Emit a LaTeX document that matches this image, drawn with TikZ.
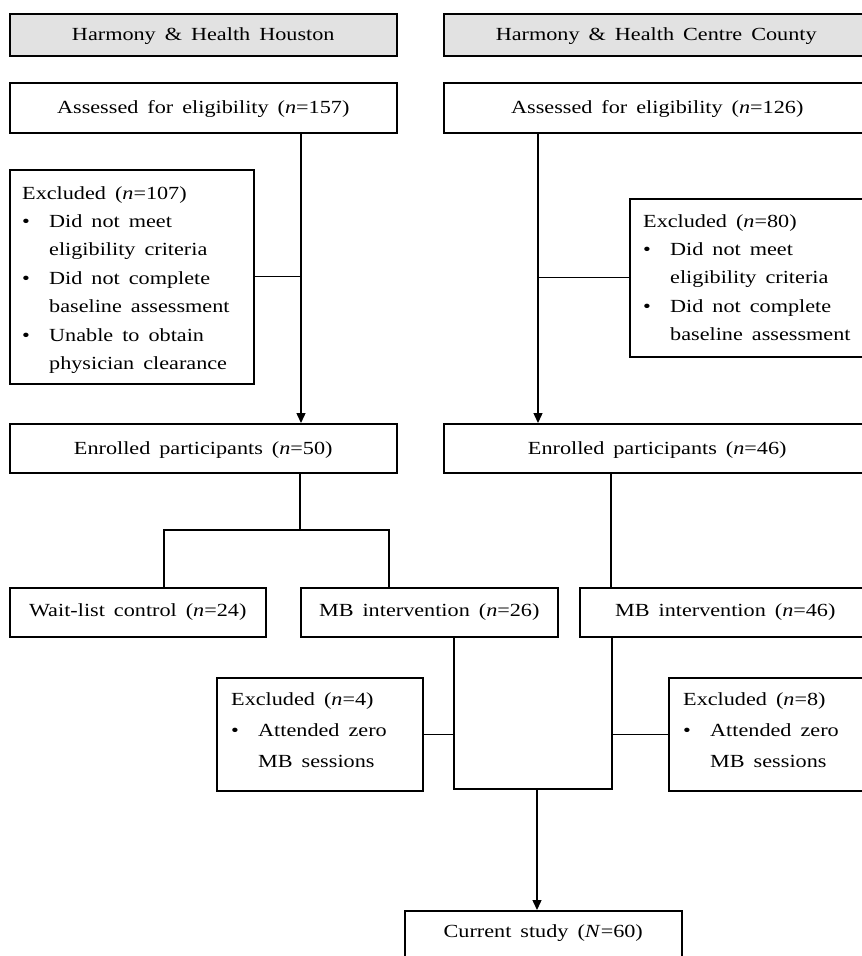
\documentclass[tikz,border=0pt]{standalone}
\usepackage{fontspec}
\setmainfont{Liberation Serif}[FakeStretch=1.2]
\usetikzlibrary{arrows.meta}
\definecolor{hdrgray}{RGB}{226,226,226}
\newcommand\boxfont{\fontsize{18.5}{28.4}\selectfont\spaceskip=9pt plus 2pt minus 1pt\relax}
\newcommand\boxfontw{\fontsize{18.5}{31.3}\selectfont\spaceskip=9pt plus 2pt minus 1pt\relax}
\newcommand\bul{\makebox[27pt][l]{\textbullet}}
\newcommand\ind{\hspace*{27pt}}
\begin{document}
\begin{tikzpicture}[x=1pt,y=-1pt,
  box/.style={draw=black, line width=1.5pt, inner sep=0pt, anchor=north west},
  hdr/.style={box, fill=hdrgray},
  ctext/.style={inner sep=0pt, font=\boxfont, anchor=base, yshift=-6pt},
  lst/.style={inner sep=0pt, font=\boxfont, align=left, anchor=base west},
  lstw/.style={inner sep=0pt, font=\boxfontw, align=left, anchor=base west},
  conn/.style={line width=1.4pt},
  arr/.style={conn, -{Triangle[length=10pt,width=9pt]}}]
\useasboundingbox (0,0) rectangle (862,956);
% boxes
\node[hdr, minimum width=387pt, minimum height=42pt] (h1) at (9,13) {};
\node[hdr, minimum width=427pt, minimum height=42pt] (h2) at (443,13) {};
\node[box, minimum width=387pt, minimum height=50pt] (a1) at (9,82) {};
\node[box, minimum width=427pt, minimum height=50pt] (a2) at (443,82) {};
\node[box, minimum width=244pt, minimum height=214pt] (x1) at (9,169) {};
\node[box, minimum width=241pt, minimum height=158pt] (x2) at (629,198) {};
\node[box, minimum width=387pt, minimum height=49pt] (e1) at (9,423) {};
\node[box, minimum width=427pt, minimum height=49pt] (e2) at (443,423) {};
\node[box, minimum width=256pt, minimum height=49pt] (w1) at (9,587) {};
\node[box, minimum width=257pt, minimum height=49pt] (m1) at (300,587) {};
\node[box, minimum width=291pt, minimum height=49pt] (m2) at (579,587) {};
\node[box, minimum width=206pt, minimum height=113pt] (x3) at (216,677) {};
\node[box, minimum width=202pt, minimum height=113pt] (x4) at (668,677) {};
\node[box, minimum width=277pt, minimum height=70pt] (c1) at (404,910) {};
% centred texts
\node[ctext] (h1t) at (h1.center) {Harmony \& Health Houston};
\node[ctext] (h2t) at ([xshift=-1pt]h2.center) {Harmony \& Health Centre County};
\node[ctext] (a1t) at (a1.center) {Assessed for eligibility (\textit{n}=157)};
\node[ctext] (a2t) at (a2.center) {Assessed for eligibility (\textit{n}=126)};
\node[ctext] (e1t) at (e1.center) {Enrolled participants (\textit{n}=50)};
\node[ctext] (e2t) at (e2.center) {Enrolled participants (\textit{n}=46)};
\node[ctext, yshift=2pt] (w1t) at (w1.center) {Wait-list control (\textit{n}=24)};
\node[ctext, yshift=2pt] (m1t) at (m1.center) {MB intervention (\textit{n}=26)};
\node[ctext, yshift=2pt] (m2t) at (m2.center) {MB intervention (\textit{n}=46)};
\node[ctext, yshift=6pt] (c1t) at ([yshift=-27pt]c1.north) {Current study (\textit{N}=60)};
% list texts (anchored at the baseline of the last line)
\node[lst] (x1t) at (22,369.4) {Excluded (\textit{n}=107)\\
  \bul Did not meet\\ \ind eligibility criteria\\
  \bul Did not complete\\ \ind baseline assessment\\
  \bul Unable to obtain\\ \ind physician clearance};
\node[lst] (x2t) at (643,340.6) {Excluded (\textit{n}=80)\\
  \bul Did not meet\\ \ind eligibility criteria\\
  \bul Did not complete\\ \ind baseline assessment};
\node[lstw] (x3t) at (231,767.6) {Excluded (\textit{n}=4)\\
  \bul Attended zero\\ \ind MB sessions};
\node[lstw] (x4t) at (683,767.6) {Excluded (\textit{n}=8)\\
  \bul Attended zero\\ \ind MB sessions};
% connector helpers
\coordinate (vL) at (301,0);
\coordinate (vR) at (538,0);
\coordinate (vS) at (300,530);
\coordinate (sL) at (164,530);
\coordinate (sR) at (389,530);
\coordinate (vR2) at (611,0);
\coordinate (jL) at (454,789);
\coordinate (jR) at (612,789);
\coordinate (jM) at (537,789);
% connectors
\draw[arr] (a1.south -| vL) -- (e1.north -| vL);
\draw[conn] (x1.east) -- (x1.east -| vL);
\draw[arr] (a2.south -| vR) -- (e2.north -| vR);
\draw[conn] (x2.west) -- (x2.west -| vR);
\draw[conn] (e1.south -| vS) -- (vS);
\draw[conn] (w1.north -| sL) -- (sL) -- (sR) -- (m1.north -| sR);
\draw[conn] (e2.south -| vR2) -- (m2.north -| vR2);
\draw[conn] (m1.south -| jL) -- (jL) -- (jR) -- (m2.south -| jR);
\draw[conn] (x3.east) -- (x3.east -| jL);
\draw[conn] (x4.west) -- (x4.west -| jR);
\draw[arr] (jM) -- (c1.north -| jM);
\end{tikzpicture}
\end{document}
